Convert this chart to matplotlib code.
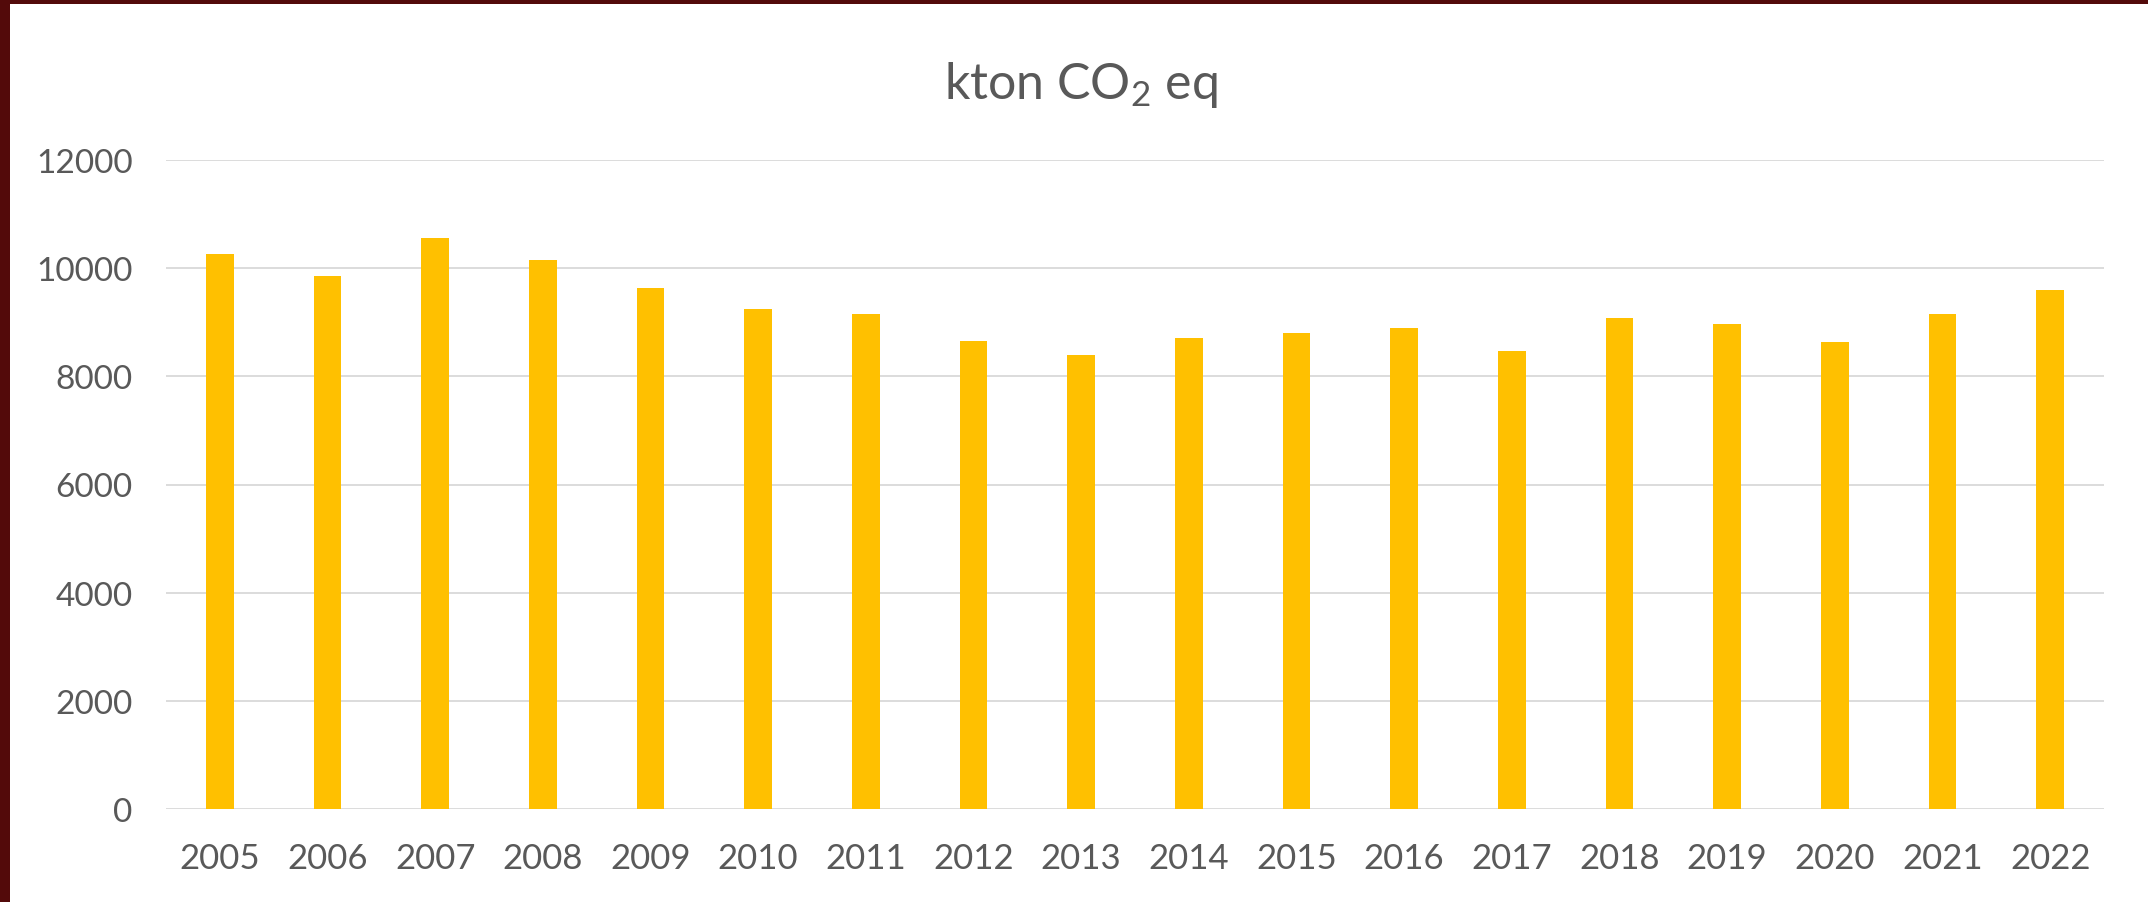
import matplotlib
matplotlib.use("Agg")
import matplotlib.pyplot as plt
from matplotlib.patches import Rectangle

years = ["2005", "2006", "2007", "2008", "2009", "2010", "2011", "2012", "2013",
         "2014", "2015", "2016", "2017", "2018", "2019", "2020", "2021", "2022"]
emissions = [10260, 9850, 10560, 10150, 9630, 9250, 9145, 8660, 8400,
             8705, 8810, 8890, 8475, 9075, 8965, 8630, 9150, 9595]
yticks = [0, 2000, 4000, 6000, 8000, 10000, 12000]
title = "kton CO$_2$ eq"

plt.rcParams['font.family'] = ['Lato', 'DejaVu Sans']
plt.rcParams['mathtext.fontset'] = 'custom'
plt.rcParams['mathtext.rm'] = 'Lato'
plt.rcParams['mathtext.it'] = 'Lato'
plt.rcParams['mathtext.bf'] = 'Lato'

W, H = 2148, 903
fig = plt.figure(figsize=(W / 100, H / 100), dpi=100)
fig.patch.set_facecolor('white')

# dark border (left and top)
border = '#530a0a'
fig.patches.append(Rectangle((0, 0), 10 / W, 1, transform=fig.transFigure,
                             facecolor=border, edgecolor='none', zorder=10))
fig.patches.append(Rectangle((0, 1 - 5 / H), 1, 5 / H, transform=fig.transFigure,
                             facecolor=border, edgecolor='none', zorder=10))

ax = fig.add_axes([166 / W, (H - 810) / H, 1938 / W, 649 / H])
x = list(range(len(years)))
ax.bar(x, emissions, width=0.26, color='#FFC000', zorder=3)
ax.set_xlim(-0.5, len(years) - 0.5)
ax.set_ylim(0, 12000)
ax.set_yticks(yticks)
ax.set_yticklabels([str(v) for v in yticks])
ax.set_xticks(x)
ax.set_xticklabels(years)
ax.grid(axis='y', color='#d9d9d9', linewidth=1.3, zorder=0)
ax.set_axisbelow(True)
for s in ax.spines.values():
    s.set_visible(False)
ax.tick_params(axis='x', length=0, labelsize=25, labelcolor='#595959', pad=24)
ax.tick_params(axis='y', length=0, labelsize=24, labelcolor='#595959', pad=24)

fig.text(0.503, 1 - 99 / H, title, ha='center', va='baseline',
         fontsize=36, color='#595959')

fig.savefig('out.png', dpi=100, facecolor='white')
